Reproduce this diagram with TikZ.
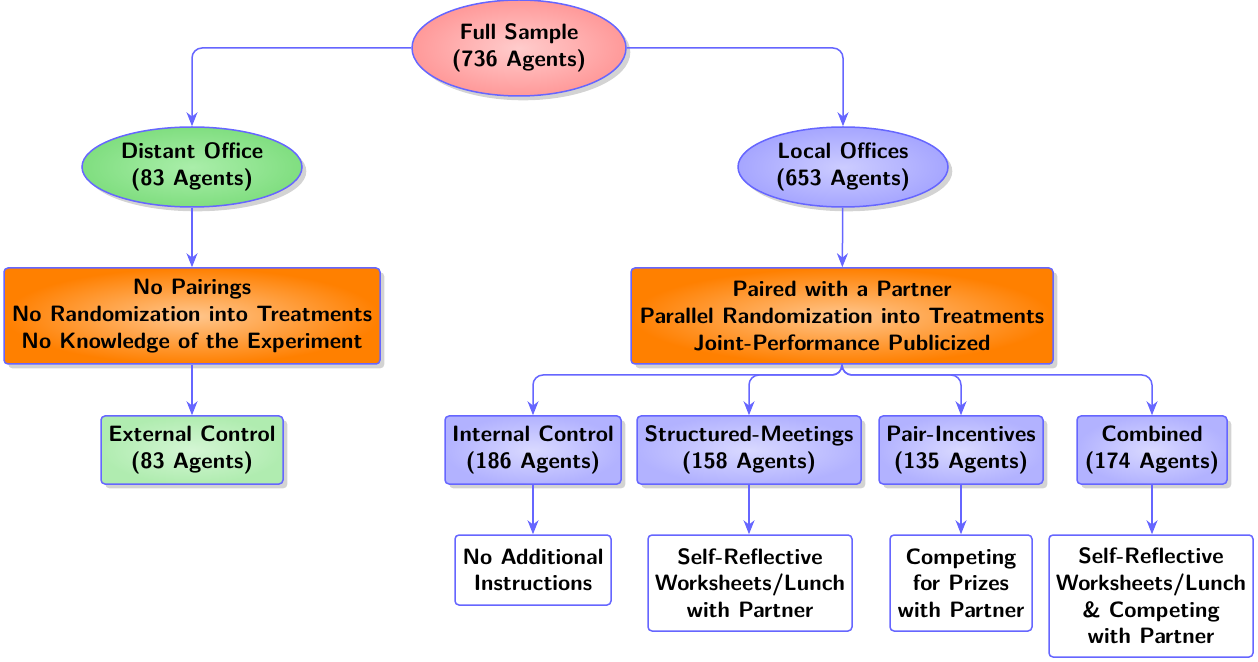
\documentclass[tikz,border=0pt]{standalone}
\usetikzlibrary{shapes.geometric,shadows,arrows.meta}
\definecolor{gout}{RGB}{128,222,128}
\definecolor{gin}{RGB}{170,238,170}
\definecolor{lgout}{RGB}{176,236,176}
\definecolor{lgin}{RGB}{212,246,212}
\begin{document}
\begin{tikzpicture}[x=0.5pt,y=-0.5pt,
  every node/.style={font=\fontsize{11.1}{13.3}\selectfont\sffamily\bfseries, align=center, draw=blue!60, line width=0.75pt},
  ell/.style={ellipse, drop shadow={opacity=0.35}, inner sep=0pt},
  box/.style={rectangle, rounded corners=2pt, drop shadow={opacity=0.35}, inner sep=0pt},
  wbox/.style={rectangle, rounded corners=2pt, fill=white, inner sep=0pt},
  conn/.style={draw=blue!60, line width=0.75pt, rounded corners=5pt, -{Stealth[length=7pt,width=5.5pt,inset=2.2pt]}}]
\useasboundingbox (0,0) rectangle (1258,662);
\node[ell, inner color=red!20, outer color=red!40, minimum width=107pt, minimum height=48pt] (full) at (519,48) {Full Sample\\(736 Agents)};
\node[ell, inner color=gin, outer color=gout, minimum width=110pt, minimum height=40pt] (dist) at (192,167) {Distant Office\\(83 Agents)};
\node[ell, inner color=blue!20, outer color=blue!35, minimum width=105pt, minimum height=40pt] (local) at (843,167) {Local Offices\\(653 Agents)};
\node[box, inner color=orange!45, outer color=orange, minimum width=188pt, minimum height=48pt] (nop) at (192,316) {No Pairings\\No Randomization into Treatments\\No Knowledge of the Experiment};
\node[box, inner color=orange!45, outer color=orange, minimum width=211pt, minimum height=48pt] (pair) at (842,316) {Paired with a Partner\\Parallel Randomization into Treatments\\Joint-Performance Publicized};
\node[box, inner color=lgin, outer color=lgout, minimum width=91pt, minimum height=34pt] (ext) at (192,450) {External Control\\(83 Agents)};
\node[box, inner color=blue!15, outer color=blue!30, minimum width=88pt, minimum height=34pt] (int) at (533,450) {Internal Control\\(186 Agents)};
\node[box, inner color=blue!15, outer color=blue!30, minimum width=112pt, minimum height=34pt] (str) at (749,450) {Structured-Meetings\\(158 Agents)};
\node[box, inner color=blue!15, outer color=blue!30, minimum width=82pt, minimum height=34pt] (pinc) at (961,450) {Pair-Incentives\\(135 Agents)};
\node[box, inner color=blue!15, outer color=blue!30, minimum width=75pt, minimum height=34pt] (comb) at (1152,450) {Combined\\(174 Agents)};
\node[wbox, minimum width=78pt, minimum height=35pt] (noadd) at (533,570) {No Additional\\Instructions};
\node[wbox, minimum width=102pt, minimum height=48pt] (selfr) at (750,583) {Self-Reflective\\Worksheets/Lunch\\with Partner};
\node[wbox, minimum width=71pt, minimum height=48pt] (compet) at (961,583) {Competing\\for Prizes\\with Partner};
\node[wbox, minimum width=102pt, minimum height=61pt] (both) at (1151,596) {Self-Reflective\\Worksheets/Lunch\\\& Competing\\with Partner};
\coordinate (j) at (842,375);
\draw[conn] (full.west) -| (dist.north);
\draw[conn] (full.east) -| (local.north);
\draw[conn] (dist) -- (nop);
\draw[conn] (local) -- (pair);
\draw[conn] (nop) -- (ext);
\draw[conn] (pair.south) |- (j) -| (int.north);
\draw[conn] (pair.south) |- (j) -| (str.north);
\draw[conn] (pair.south) |- (j) -| (pinc.north);
\draw[conn] (pair.south) |- (j) -| (comb.north);
\draw[conn] (int) -- (noadd);
\draw[conn] (str.south) -- (str.south |- selfr.north);
\draw[conn] (pinc.south) -- (pinc.south |- compet.north);
\draw[conn] (comb.south) -- (comb.south |- both.north);
\end{tikzpicture}
\end{document}
